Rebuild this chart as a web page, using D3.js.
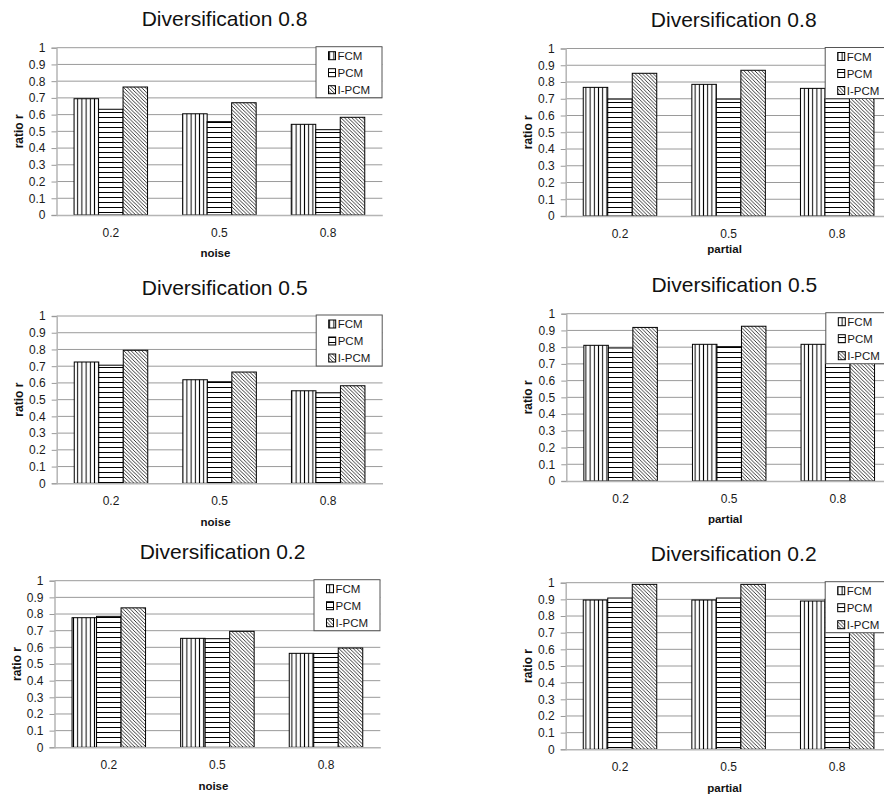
<!DOCTYPE html>
<html>
<head>
<meta charset="utf-8">
<script src="https://cdn.jsdelivr.net/npm/d3@7/dist/d3.min.js"></script>
<style>
  html, body { margin: 0; padding: 0; background: #fff; }
  svg { display: block; font-family: "Liberation Sans", Arial, sans-serif; }
</style>
</head>
<body>
<svg id="chart" width="884" height="794"></svg>
<script>
// ---------- DATA ----------
const categories = ["0.2", "0.5", "0.8"];
const seriesNames = ["FCM", "PCM", "I-PCM"];
const yTicks = [0, 0.1, 0.2, 0.3, 0.4, 0.5, 0.6, 0.7, 0.8, 0.9, 1];
const panelTitles = ["Diversification 0.8", "Diversification 0.8", "Diversification 0.5",
                     "Diversification 0.5", "Diversification 0.2", "Diversification 0.2"];
const xTitles = ["noise", "partial", "noise", "partial", "noise", "partial"];
const yTitle = "ratio r";

// values per panel: [FCM, PCM, I-PCM] over categories
const noiseDiv08   = [[0.695, 0.605, 0.542], [0.632, 0.558, 0.510], [0.765, 0.671, 0.584]];
const partialDiv08 = [[0.768, 0.786, 0.762], [0.698, 0.698, 0.700], [0.852, 0.870, 0.850]];
const noiseDiv05   = [[0.725, 0.619, 0.553], [0.706, 0.607, 0.541], [0.795, 0.665, 0.583]];
const partialDiv05 = [[0.811, 0.817, 0.817], [0.795, 0.803, 0.790], [0.918, 0.925, 0.920]];
const noiseDiv02   = [[0.778, 0.654, 0.564], [0.786, 0.652, 0.563], [0.837, 0.696, 0.596]];
const partialDiv02 = [[0.896, 0.896, 0.890], [0.908, 0.908, 0.900], [0.990, 0.990, 0.980]];
const panelValues = [noiseDiv08, partialDiv08, noiseDiv05, partialDiv05, noiseDiv02, partialDiv02];

// ---------- LAYOUT ----------
const layout = [
  { left: 56.5, top: 47.7, bottom: 215.0, xTitleOff: 41.5 },
  { left: 565.7, top: 48.5, bottom: 216.0, xTitleOff: 36.5 },
  { left: 56.7, top: 316.0, bottom: 483.3, xTitleOff: 43.0 },
  { left: 566.3, top: 313.7, bottom: 481.0, xTitleOff: 42.0 },
  { left: 54.5, top: 580.7, bottom: 747.3, xTitleOff: 42.5 },
  { left: 565.7, top: 582.7, bottom: 749.3, xTitleOff: 42.5 }
];
const step = 108.6;
const groupW = 73.5;

const svg = d3.select("#chart");
svg.append("rect").attr("width", 884).attr("height", 794).attr("fill", "#fff");

// ---------- PATTERNS ----------
const defs = svg.append("defs");
const pv = defs.append("pattern").attr("id", "pat-FCM").attr("patternUnits", "userSpaceOnUse")
  .attr("width", 4.2).attr("height", 10);
pv.append("rect").attr("width", 4.2).attr("height", 10).attr("fill", "#fff");
pv.append("line").attr("x1", 2.1).attr("x2", 2.1).attr("y1", 0).attr("y2", 10)
  .attr("stroke", "#000").attr("stroke-width", 1);

const ph = defs.append("pattern").attr("id", "pat-PCM").attr("patternUnits", "userSpaceOnUse")
  .attr("width", 10).attr("height", 5);
ph.append("rect").attr("width", 10).attr("height", 5).attr("fill", "#fff");
ph.append("line").attr("x1", 0).attr("x2", 10).attr("y1", 2.5).attr("y2", 2.5)
  .attr("stroke", "#000").attr("stroke-width", 1);

const pd = defs.append("pattern").attr("id", "pat-I-PCM").attr("patternUnits", "userSpaceOnUse")
  .attr("width", 3.6).attr("height", 3.6);
pd.append("rect").attr("width", 3.6).attr("height", 3.6).attr("fill", "#fff");
pd.append("path").attr("d", "M-1,-1 L4.6,4.6 M-1,2.6 L1,4.6 M2.6,-1 L4.6,1")
  .attr("stroke", "#222").attr("stroke-width", 0.9);

// ---------- PANELS ----------
panelValues.forEach((vals, pi) => {
  const L = layout[pi];
  const width = step * categories.length;
  const g = svg.append("g");

  const x = d3.scaleBand().domain(categories).range([L.left, L.left + width]).padding(0);
  const y = d3.scaleLinear().domain([0, 1]).range([L.bottom, L.top]);
  const inner = d3.scaleBand().domain(seriesNames)
    .range([(step - groupW) / 2, (step + groupW) / 2]).padding(0);

  // gridlines
  g.append("g").selectAll("line").data(yTicks.filter(t => t > 0)).join("line")
    .attr("x1", L.left).attr("x2", L.left + width)
    .attr("y1", d => y(d)).attr("y2", d => y(d))
    .attr("stroke", "#9a9a9a").attr("stroke-width", 1);

  // y axis
  const yAxis = d3.axisLeft(y).tickValues(yTicks).tickSize(5).tickPadding(6)
    .tickFormat(d => String(+d.toFixed(1)));
  const ya = g.append("g").attr("transform", `translate(${L.left},0)`).call(yAxis);
  ya.select(".domain").attr("stroke", "#b5b5b5").attr("stroke-width", 1.5);
  ya.selectAll(".tick line").attr("stroke", "#9a9a9a");
  ya.selectAll(".tick text").attr("font-size", 12).attr("fill", "#1a1a1a")
    .attr("font-family", "'Liberation Sans', Arial, sans-serif");

  // bars
  seriesNames.forEach((s, si) => {
    g.append("g").selectAll("rect").data(vals[si]).join("rect")
      .attr("x", (d, ci) => x(categories[ci]) + inner(s))
      .attr("width", inner.bandwidth())
      .attr("y", d => y(d))
      .attr("height", d => y(0) - y(d))
      .attr("fill", `url(#pat-${s})`)
      .attr("stroke", "#000").attr("stroke-width", 1);
  });

  // x axis
  const xAxis = d3.axisBottom(x).tickSize(0).tickPadding(0);
  const xa = g.append("g").attr("transform", `translate(0,${L.bottom})`).call(xAxis);
  xa.select(".domain").attr("stroke", "#b5b5b5").attr("stroke-width", 1.5);
  xa.selectAll(".tick text").attr("font-size", 12).attr("fill", "#1a1a1a")
    .attr("dy", null).attr("y", 21.5)
    .attr("font-family", "'Liberation Sans', Arial, sans-serif");

  // titles
  g.append("text").attr("x", L.left + 168).attr("y", L.top - 21.5)
    .attr("text-anchor", "middle").attr("font-size", 21).attr("fill", "#111")
    .text(panelTitles[pi]);
  g.append("text").attr("x", L.left + width / 2 - 4).attr("y", L.bottom + L.xTitleOff)
    .attr("text-anchor", "middle").attr("font-size", 11.5).attr("font-weight", "bold")
    .attr("fill", "#111").text(xTitles[pi]);
  const ymid = (L.top + L.bottom) / 2;
  g.append("text").attr("transform", `translate(${L.left - 34},${ymid}) rotate(-90)`)
    .attr("text-anchor", "middle").attr("font-size", 12).attr("font-weight", "bold")
    .attr("fill", "#111").text(yTitle);

  // legend
  const lx = L.left + 259.5, ly = L.top - 1, lw = 66, lh = 51;
  const lg = g.append("g");
  lg.append("rect").attr("x", lx).attr("y", ly).attr("width", lw).attr("height", lh)
    .attr("fill", "#fff").attr("stroke", "#555").attr("stroke-width", 1);
  seriesNames.forEach((s, si) => {
    const cy = ly + 9 + si * 17;
    lg.append("rect").attr("x", lx + 12.5).attr("y", cy - 4).attr("width", 7).attr("height", 8)
      .attr("fill", `url(#pat-${s})`).attr("stroke", "#000").attr("stroke-width", 1);
    lg.append("text").attr("x", lx + 21.5).attr("y", cy + 4.3)
      .attr("font-size", 11.5).attr("fill", "#1a1a1a").text(s);
  });
});
</script>
</body>
</html>
